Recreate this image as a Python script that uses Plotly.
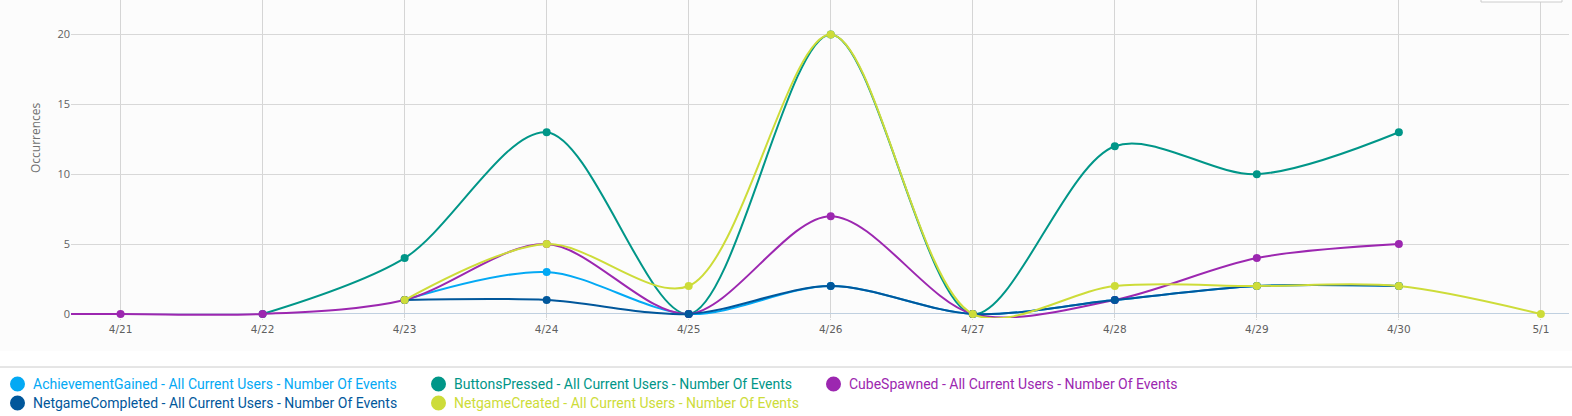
import plotly.graph_objects as go

categories = ["4/20", "4/21", "4/22", "4/23", "4/24", "4/25", "4/26", "4/27", "4/28", "4/29", "4/30", "5/1"]
tick_labels = categories[1:]
achievement = [None, None, None, 1, 3, 0, 2, 0, 1, 2, 2, None]
buttons = [None, None, 0, 4, 13, 0, 20, 0, 12, 10, 13, None]
cube = [0, 0, 0, 1, 5, 0, 7, 0, 1, 4, 5, None]
completed = [None, None, None, 1, 1, 0, 2, 0, 1, 2, 2, None]
created = [None, None, None, 1, 5, 2, 20, 0, 2, 2, 2, 0]
suffix = " - All Current Users - Number Of Events"
series = [
    ("AchievementGained", achievement, "#03a9f4"),
    ("ButtonsPressed", buttons, "#009688"),
    ("CubeSpawned", cube, "#9c27b0"),
    ("NetgameCompleted", completed, "#01579b"),
    ("NetgameCreated", created, "#cddc39"),
]
legend_slots = {"AchievementGained": (10, 384), "ButtonsPressed": (431, 384), "CubeSpawned": (826, 384),
                "NetgameCompleted": (10, 403), "NetgameCreated": (431, 403)}

L, R, T, B = 71, 3, 0, 98
W, H = 1572, 416
px = lambda x: (x - L) / (W - L - R)
py = lambda y: (H - B - y) / (H - B - T)

fig = go.Figure()
for name, vals, color in series:
    fig.add_trace(go.Scatter(
        x=categories, y=vals, name=name + suffix, mode="lines+markers",
        line=dict(color=color, width=2, shape="spline", smoothing=0.9),
        marker=dict(color=color, size=8), connectgaps=False, showlegend=False, cliponaxis=True,
    ))

shapes = [
    dict(type="rect", xref="paper", yref="paper", x0=px(0), x1=px(W), y0=py(351), y1=py(0),
         fillcolor="#fcfcfc", line_width=0, layer="below"),
    dict(type="line", xref="paper", yref="paper", x0=px(0), x1=px(W), y0=py(367), y1=py(367),
         line=dict(color="#cccccc", width=1)),
    dict(type="rect", xref="paper", yref="paper", x0=px(1481), x1=px(1562), y0=py(2), y1=py(-3),
         fillcolor="#ffffff", line=dict(color="#cccccc", width=1)),
]
annotations = [dict(xref="paper", yref="paper", x=px(35), y=py(138), text="Occurrences", textangle=-90,
                    showarrow=False, xanchor="center", yanchor="middle",
                    font=dict(family="Open Sans", size=12, color="#707070"))]
for name, vals, color in series:
    x0, y0 = legend_slots[name]
    shapes.append(dict(type="circle", xref="paper", yref="paper", x0=px(x0), x1=px(x0 + 15),
                       y0=py(y0 + 7.5), y1=py(y0 - 7.5), fillcolor=color, line_width=0))
    annotations.append(dict(xref="paper", yref="paper", x=px(x0 + 21), y=py(y0), text=name + suffix,
                            showarrow=False, xanchor="left", yanchor="middle",
                            font=dict(family="Roboto", size=14, color=color)))

fig.update_layout(
    width=W, height=H, margin=dict(l=L, r=R, t=T, b=B), paper_bgcolor="#ffffff", plot_bgcolor="#fcfcfc",
    shapes=shapes, annotations=annotations, showlegend=False,
    font=dict(family="Open Sans", size=11, color="#606060"),
)
fig.update_xaxes(type="category", categoryorder="array", categoryarray=categories, range=[0.651, 11.198],
                 tickmode="array", tickvals=tick_labels, ticktext=tick_labels,
                 showgrid=True, gridcolor="#d5d5d5", gridwidth=1, zeroline=False,
                 showline=False, ticks="outside", ticklen=1,
                 tickcolor="#d5d5d5", tickfont=dict(family="DejaVu Sans", size=10.5, color="#606060"))
fig.update_yaxes(range=[-0.287, 22.46], tickvals=[0, 5, 10, 15, 20], showgrid=True, gridcolor="#d8d8d8", gridwidth=1,
                 zeroline=True, zerolinecolor="#c0d0e0", zerolinewidth=1, showline=False, ticks="", ticklen=0,
                 tickfont=dict(size=11, color="#606060"))
fig.write_html("out.html", config=dict(displayModeBar=False),
               post_script="document.body.style.margin='0';document.documentElement.style.overflow='hidden';document.body.style.overflow='hidden';")
